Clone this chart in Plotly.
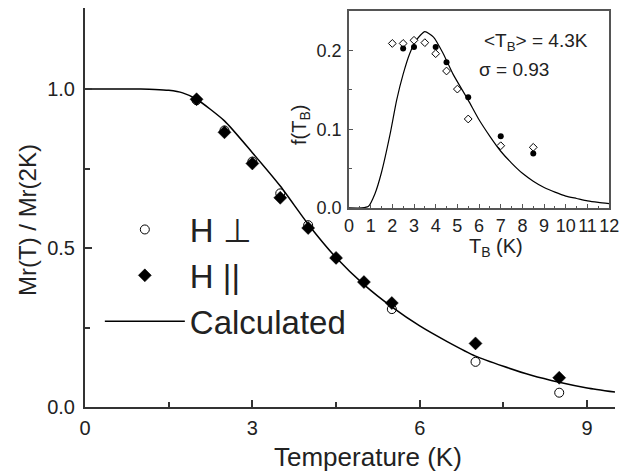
import plotly.graph_objects as go

# ---------------- data: main panel ----------------
perp_T = [2, 2.5, 3, 3.5, 4, 5.5, 7, 8.5]
perp_M = [0.965, 0.87, 0.772, 0.672, 0.572, 0.308, 0.142, 0.045]

para_T = [2, 2.5, 3, 3.5, 4, 4.5, 5, 5.5, 7, 8.5]
para_M = [0.968, 0.864, 0.766, 0.658, 0.563, 0.469, 0.393, 0.327, 0.200, 0.092]

calc_T = [0, 0.5, 1.0, 1.25, 1.5, 1.75, 2.0, 2.5, 3.0, 3.5, 4.0, 4.5, 5.0, 5.5, 6.0, 6.5, 7.0, 7.5, 8.0, 8.5, 9.0, 9.5]
calc_M = [1.0, 1.0, 1.0, 0.999, 0.996, 0.988, 0.968, 0.90, 0.80, 0.695, 0.575, 0.47, 0.385, 0.315, 0.255, 0.205, 0.16, 0.128, 0.10, 0.078, 0.06, 0.047]

main_xticks = [0, 3, 6, 9]
main_yticks = [0.0, 0.5, 1.0]

# ---------------- data: inset ----------------
inset_open_T = [2, 2.5, 3, 3.5, 4, 4.5, 5, 5.5, 7, 8.5]
inset_open_f = [0.209, 0.209, 0.213, 0.210, 0.196, 0.174, 0.151, 0.113, 0.079, 0.077]

inset_fill_T = [2.5, 3, 4, 4.5, 5.5, 7, 8.5]
inset_fill_f = [0.2025, 0.2046, 0.2046, 0.185, 0.1405, 0.091, 0.069]

fit_T = [0, 0.6, 0.9, 1.2, 1.5, 1.9, 2.2, 2.5, 2.8, 3.1, 3.5, 3.9, 4.35, 4.8, 5.5, 6.0, 6.5, 7.0, 7.5, 8.0, 8.5, 9.0, 9.5, 10.0, 10.5, 11.0, 11.5, 12.0]
fit_f = [0.0, 0.0, 0.002, 0.018, 0.045, 0.094, 0.137, 0.170, 0.196, 0.213, 0.224, 0.217, 0.196, 0.170, 0.137, 0.112, 0.091, 0.072, 0.057, 0.044, 0.034, 0.026, 0.020, 0.015, 0.012, 0.009, 0.007, 0.0055]

inset_xticks = list(range(0, 13))
inset_yticks = [0.0, 0.1, 0.2]

FONT = "Liberation Sans, Arial, Helvetica, sans-serif"
AX = "#333333"

fig = go.Figure()

# main panel
fig.add_trace(go.Scatter(x=calc_T, y=calc_M, mode="lines", name="Calculated",
                         line=dict(color="black", width=1.5, shape="spline", smoothing=0.6),
                         legendrank=3, xaxis="x", yaxis="y"))
fig.add_trace(go.Scatter(x=perp_T, y=perp_M, mode="markers", name="H \u22a5",
                         marker=dict(symbol="circle-open", size=9, color="black",
                                     line=dict(width=1, color="black")),
                         legendrank=1, xaxis="x", yaxis="y"))
fig.add_trace(go.Scatter(x=para_T, y=para_M, mode="markers", name="H ||",
                         marker=dict(symbol="diamond", size=10, color="black",
                                     line=dict(width=0.5, color="black")),
                         legendrank=2, xaxis="x", yaxis="y"))

# inset
fig.add_trace(go.Scatter(x=fit_T, y=fit_f, mode="lines", showlegend=False,
                         line=dict(color="black", width=1.2, shape="spline", smoothing=0.6),
                         xaxis="x2", yaxis="y2"))
fig.add_trace(go.Scatter(x=inset_open_T, y=inset_open_f, mode="markers", showlegend=False,
                         marker=dict(symbol="diamond", size=6, color="white",
                                     line=dict(width=1, color="black")),
                         xaxis="x2", yaxis="y2"))
fig.add_trace(go.Scatter(x=inset_fill_T, y=inset_fill_f, mode="markers", showlegend=False,
                         marker=dict(symbol="circle", size=6, color="black"),
                         xaxis="x2", yaxis="y2"))

main_ax = dict(showgrid=False, zeroline=False, showline=True, linecolor=AX, linewidth=2,
               ticks="inside", ticklen=7, tickwidth=1.5, tickcolor=AX, automargin=False,
               tickfont=dict(family=FONT, size=20, color="#222"))

inset_ax = dict(showgrid=False, zeroline=False, showline=True, mirror=True, automargin=False,
                linecolor="#555", linewidth=1.5, ticks="inside", ticklen=4, tickcolor="#555",
                tickangle=0, tickfont=dict(family=FONT, size=18, color="#222"))

fig.update_layout(
    width=621, height=472,
    margin=dict(l=85, r=6, t=8, b=65, autoexpand=False),
    paper_bgcolor="white", plot_bgcolor="white",
    font=dict(family=FONT, color="#222"),
    xaxis=dict(main_ax, domain=[0, 1], range=[0, 9.5], tickvals=main_xticks,
               ticktext=[str(v) for v in main_xticks], anchor="y",
               minor=dict(tickvals=[1.5, 4.5, 7.5], ticks="inside", ticklen=5, tickcolor=AX),
               ticklabelstandoff=2),
    yaxis=dict(main_ax, domain=[0, 1], range=[0, 1.255], tickvals=main_yticks,
               ticktext=["%.1f" % v for v in main_yticks], anchor="x",
               minor=dict(tickvals=[0.25, 0.75], ticks="inside", ticklen=5, tickcolor=AX),
               ticklabelstandoff=4),
    xaxis2=dict(inset_ax, domain=[0.498, 0.989], range=[0, 12], anchor="y2",
                tickvals=inset_xticks, ticktext=[str(v) for v in inset_xticks],
                minor=dict(dtick=0.5, ticks="inside", ticklen=2, tickcolor="#555"),
                ticklabelstandoff=1),
    yaxis2=dict(inset_ax, domain=[0.499, 0.992], range=[0, 0.25], anchor="x2",
                tickvals=inset_yticks, ticktext=["%.1f" % v for v in inset_yticks],
                minor=dict(tickvals=[0.05, 0.15], ticks="inside", ticklen=3, tickcolor="#555"),
                ticklabelstandoff=2),
    legend=dict(x=0.028, y=0.515, xanchor="left", yanchor="top",
                bgcolor="rgba(0,0,0,0)", borderwidth=0,
                font=dict(family=FONT, size=33, color="#222"),
                itemwidth=80, tracegroupgap=0),
    showlegend=True,
)

annotations = [
    dict(text="Temperature (K)", x=368, y=457),
    dict(text="Mr(T) / Mr(2K)", x=27, y=220, textangle=-90),
    dict(text="T<sub>B</sub> (K)", x=496, y=247),
    dict(text="f(T<sub>B</sub>)", x=300, y=125, textangle=-90),
    dict(text="&lt;T<sub>B</sub>&gt; = 4.3K", x=536, y=42),
    dict(text="\u03c3 = 0.93", x=514, y=69),
]
sizes = [26, 24, 20, 20, 19, 19]
# convert pixel positions to paper coords of the plot area
for a, s in zip(annotations, sizes):
    px, py = a["x"], a["y"]
    a.update(x=(px - 85) / 530.0, y=(407 - py) / 399.0, xref="paper", yref="paper",
             showarrow=False, xanchor="center", yanchor="middle",
             font=dict(family=FONT, size=s, color="#222"))
fig.update_layout(annotations=annotations)

fig.write_html("out.html", config={"displayModeBar": False},
               post_script="document.body.style.margin='0';document.body.style.padding='0';")
